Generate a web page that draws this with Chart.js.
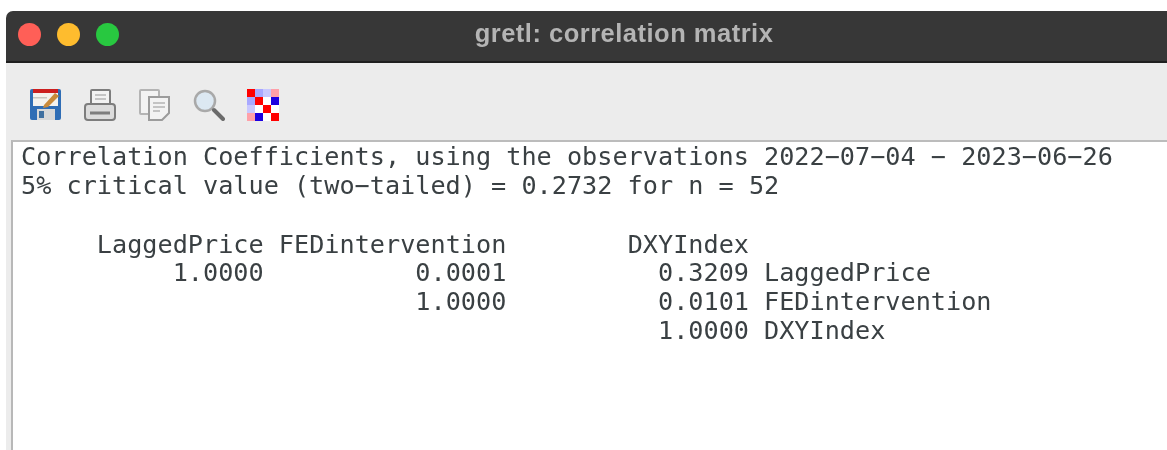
<!DOCTYPE html>
<html>
<head>
<meta charset="utf-8">
<title>gretl: correlation matrix</title>
<script src="https://cdn.jsdelivr.net/npm/chart.js@4"></script>
<style>
html,body{margin:0;padding:0;background:#fff;overflow:hidden}
#page{position:relative;width:1167px;height:450px;filter:blur(.5px)}
#bar{position:absolute;left:6px;top:11px;right:0;height:50px;background:#373737;border-bottom:2px solid #1f1f1f;border-top-left-radius:7px}
#bar i{position:absolute;top:12px;width:23.3px;height:23.3px;border-radius:50%}
#name{position:absolute;left:0;top:11px;width:1248px;height:44px;text-align:center;color:#b4b4b4;font:bold 25.5px/44px "Liberation Sans",sans-serif;letter-spacing:.5px}
#tools{position:absolute;left:6px;top:63px;right:0;height:77px;background:#ececec}
#tools svg{position:absolute;top:26px;width:32px;height:32px}
#pane{position:absolute;left:11px;top:140px;right:0;bottom:0;background:#fff;border-top:2px solid #bcbcbc;border-left:2px solid #b8b8b8}
#edge{position:absolute;left:6px;top:140px;width:5px;bottom:0;background:#ececec}
#c{position:absolute;left:0;top:0}
</style>
</head>
<body>
<div id="page">
  <div id="bar">
    <i style="left:12px;background:#ff5f57"></i>
    <i style="left:50.7px;background:#febc2e"></i>
    <i style="left:89.7px;background:#28c840"></i>
  </div>
  <div id="name">gretl: correlation matrix</div>
  <div id="tools">
    <svg style="left:24px" viewBox="0 0 32 32">
      <rect x="0" y="0" width="31" height="31" rx="2" fill="#2f6db5"/>
      <rect x="3" y="0" width="25" height="17" fill="#f4f2ee"/>
      <rect x="3" y="0" width="25" height="4" fill="#cc1f1f"/>
      <rect x="3" y="8" width="14" height="1.5" fill="#c9c6c0"/>
      <rect x="7" y="20" width="18" height="11" fill="#d8d8d8"/>
      <rect x="9" y="22" width="5" height="7" fill="#3f6f9f"/>
      <path d="M14 16 L25 4 L29 7 L18 18 L13 19 Z" fill="#c98a3a"/>
    </svg>
    <svg style="left:78px" viewBox="0 0 32 32" fill="none" stroke="#7d7d7d" stroke-width="2">
      <rect x="7" y="1" width="19" height="16" rx="1" fill="#f2f2f2"/>
      <path d="M11 6h11M11 10h11" stroke="#b5b5b5" stroke-width="1.5"/>
      <rect x="1" y="15" width="30" height="16" rx="3" fill="#dcdcdc"/>
      <path d="M6 24h20" stroke-width="3"/>
    </svg>
    <svg style="left:133px" viewBox="0 0 32 32" fill="#f3f3f3" stroke="#b4b4b4" stroke-width="2">
      <rect x="1" y="1" width="19" height="24" rx="1"/>
      <path d="M10 8h20v16l-7 7H10z" stroke="#9c9c9c"/>
      <path d="M14 14h12M14 18h12M14 22h7" stroke="#b5b5b5" stroke-width="1.5"/>
    </svg>
    <svg style="left:187px" viewBox="0 0 32 32" fill="none">
      <circle cx="12" cy="12" r="10" fill="#dce8f2" stroke="#a9a9a9" stroke-width="2.5"/>
      <path d="M21 21l9 9" stroke="#6b6b6b" stroke-width="4" stroke-linecap="round"/>
    </svg>
    <svg style="left:241px" viewBox="0 0 32 32" shape-rendering="crispEdges">
      <rect width="32" height="32" fill="#fff"/>
      <rect x="0" y="0" width="8" height="8" fill="#ff0000"/><rect x="8" y="0" width="8" height="8" fill="#a8a8ff"/><rect x="16" y="0" width="8" height="8" fill="#c8c8ff"/><rect x="24" y="0" width="8" height="8" fill="#ffa0a8"/>
      <rect x="0" y="8" width="8" height="8" fill="#a8a8ff"/><rect x="8" y="8" width="8" height="8" fill="#ff0000"/><rect x="24" y="8" width="8" height="8" fill="#1c00e0"/>
      <rect x="0" y="16" width="8" height="8" fill="#c8c8ff"/><rect x="16" y="16" width="8" height="8" fill="#ff0000"/>
      <rect x="0" y="24" width="8" height="8" fill="#ffa0a8"/><rect x="8" y="24" width="8" height="8" fill="#1c00e0"/><rect x="24" y="24" width="8" height="8" fill="#ff0000"/>
    </svg>
  </div>
  <div id="edge"></div>
  <div id="pane"></div>
  <canvas id="c" width="1167" height="450"></canvas>
</div>
<script>
const headerLines = [
  "Correlation Coefficients, using the observations 2022\u221207\u221204 \u2212 2023\u221206\u221226",
  "5% critical value (two\u2212tailed) = 0.2732 for n = 52"
];
const variables = ["LaggedPrice", "FEDintervention", "DXYIndex"];
const laggedPriceRow = [1.0000, 0.0001, 0.3209];
const fedInterventionRow = [null, 1.0000, 0.0101];
const dxyIndexRow = [null, null, 1.0000];

const rows = [laggedPriceRow, fedInterventionRow, dxyIndexRow];
const cells = [];
rows.forEach((row, r) => row.forEach((v, c) => {
  if (v !== null) cells.push({ x: variables[c], y: variables[r], v: v });
}));

const monoFont = { family: '"DejaVu Sans Mono", monospace', size: 25.2, lineHeight: 29 / 25.2 };
const inkColor = "#3a4043";

// column heads and coefficients sit right-aligned on the scale positions
const tableText = {
  id: "tableText",
  afterDatasetsDraw(chart) {
    const { ctx, scales } = chart;
    ctx.save();
    ctx.font = monoFont.size + "px " + monoFont.family;
    ctx.fillStyle = inkColor;
    ctx.textAlign = "right";
    ctx.textBaseline = "middle";
    variables.forEach(name => {
      ctx.fillText(name, scales.x.getPixelForValue(variables.indexOf(name) + 1), scales.y.getPixelForValue(0));
    });
    chart.getDatasetMeta(0).data.forEach((pt, i) => {
      ctx.fillText(cells[i].v.toFixed(4), pt.x, pt.y);
    });
    ctx.restore();
  }
};

new Chart(document.getElementById("c"), {
  type: "scatter",
  data: { datasets: [{ data: cells, pointRadius: 0 }] },
  plugins: [tableText],
  options: {
    responsive: false,
    animation: false,
    layout: { padding: { left: 21, top: 144, right: 0, bottom: 118 } },
    plugins: {
      legend: { display: false },
      tooltip: { enabled: false },
      title: {
        display: true,
        text: headerLines,
        align: "start",
        color: inkColor,
        font: { family: monoFont.family, size: monoFont.size, weight: "normal", lineHeight: monoFont.lineHeight },
        padding: { top: 0, bottom: 36 }
      }
    },
    scales: {
      x: {
        type: "category",
        labels: [""].concat(variables),
        offset: false,
        display: true,
        position: "top",
        grid: { display: false },
        border: { display: false },
        ticks: { display: false }
      },
      y: {
        type: "category",
        labels: [""].concat(variables),
        offset: false,
        position: "right",
        afterFit(scale) { scale.width = 418; },
        grid: { display: false, drawTicks: false },
        border: { display: false },
        ticks: {
          autoSkip: false,
          padding: 15,
          color: inkColor,
          font: { family: monoFont.family, size: monoFont.size }
        }
      }
    }
  }
});
</script>
</body>
</html>
